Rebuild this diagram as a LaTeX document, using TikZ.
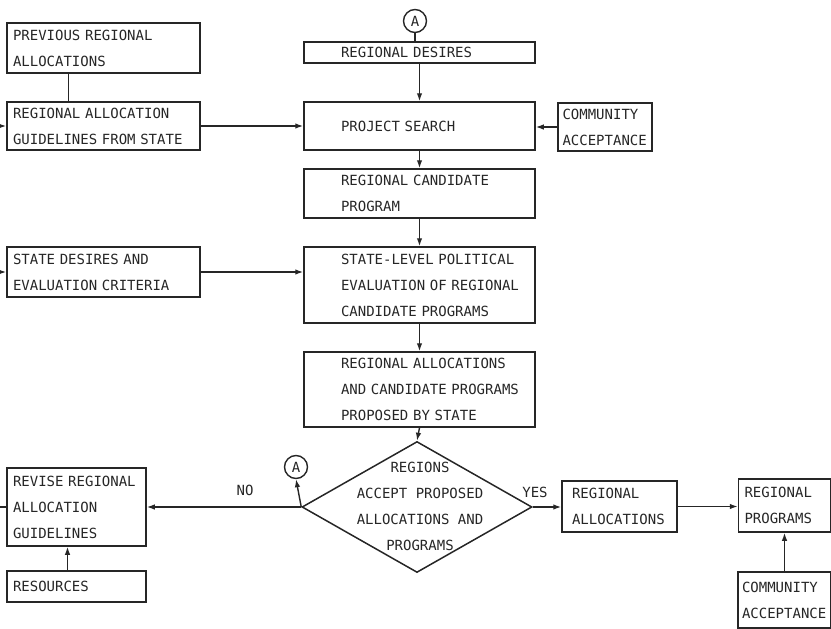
\documentclass[tikz,border=0pt]{standalone}
\usepackage{fontspec}
\usepackage{tikz}
\usetikzlibrary{arrows.meta}
\usetikzlibrary{shapes.geometric}
\newfontfamily\typewriter{DejaVu Sans Mono}
\newcommand{\boxfont}{\typewriter\fontsize{14}{26}\selectfont}

\begin{document}
\begin{tikzpicture}[x=1pt, y=-1pt,
    box/.style={draw=inkcolor, line width=1.5pt, text=inkcolor, font=\boxfont,
      align=left, inner xsep=6pt, inner ysep=0pt},
    midbox/.style={box, text width=219pt, minimum height=#1,
      execute at begin node={\leftskip=31pt}},
    flow/.style={draw=inkcolor, line width=1.4pt, -{Latex[length=8pt, width=5.5pt]}},
    link/.style={draw=inkcolor, line width=1.4pt},
    connector/.style={draw=inkcolor, circle, line width=1.4pt, minimum size=23pt,
      inner sep=0pt, text=inkcolor, font=\boxfont},
    decision/.style={draw=inkcolor, diamond, line width=1.5pt, minimum width=230pt,
      minimum height=131pt, inner sep=0pt},
    branch/.style={text=inkcolor, font=\boxfont, inner sep=0pt}]

    % Farben
    \definecolor{inkcolor}{rgb}{0.15, 0.15, 0.15}

    \useasboundingbox (0,0) rectangle (831,629);

    % Kaesten links
    \node[box, text width=181pt, minimum height=50pt] (previous) at (103.5,48)
      {PREVIOUS REGIONAL\\ALLOCATIONS};
    \node[box, text width=181pt, minimum height=48pt] (guide) at (103.5,126)
      {REGIONAL ALLOCATION\\GUIDELINES FROM STATE};
    \node[box, text width=181pt, minimum height=50pt] (statedes) at (103.5,272)
      {STATE DESIRES AND\\EVALUATION CRITERIA};
    \node[box, text width=127pt, minimum height=78pt] (revise) at (76.5,507)
      {REVISE REGIONAL\\ALLOCATION\\GUIDELINES};
    \node[box, text width=127pt, minimum height=31pt] (resources) at (76.5,586.5)
      {RESOURCES};

    % Hauptkette in der Mitte
    \node[connector] (A1) at (415,21) {A};
    \node[midbox=21pt] (desires) at (419.5,52.5) {REGIONAL DESIRES};
    \node[midbox=48pt] (search) at (419.5,126) {PROJECT SEARCH};
    \node[midbox=49pt] (cand) at (419.5,193.5) {REGIONAL CANDIDATE\\PROGRAM};
    \node[midbox=76pt] (state) at (419.5,285)
      {STATE-LEVEL POLITICAL\\EVALUATION OF REGIONAL\\CANDIDATE PROGRAMS};
    \node[midbox=75pt] (proposed) at (419.5,389.5)
      {REGIONAL ALLOCATIONS\\AND CANDIDATE PROGRAMS\\PROPOSED BY STATE};
    \node[decision] (accept) at (417,507) {};
    \node[branch, align=center] (acceptText) at (420,506)
      {REGIONS\\ACCEPT PROPOSED\\ALLOCATIONS AND\\PROGRAMS};
    \node[connector] (A2) at (296,467) {A};

    % Kaesten rechts
    \node[box, inner xsep=4.5pt, text width=85pt, minimum height=48pt] (community) at (605,127)
      {COMMUNITY\\ACCEPTANCE};
    \node[box, inner xsep=10pt, text width=95pt, minimum height=51pt] (regalloc) at (619.5,506.5)
      {REGIONAL\\ALLOCATIONS};
    \node[box, text width=80pt, minimum height=53pt] (regprog) at (784.5,505.5)
      {REGIONAL\\PROGRAMS};
    \node[box, inner xsep=4pt, text width=85pt, minimum height=56pt] (community2) at (784.5,600)
      {COMMUNITY\\ACCEPTANCE};

    % Beschriftungen der Verzweigung
    \node[branch] (no) at (245,490) {NO};
    \node[branch] (yes) at (535,492) {YES};

    % Anschluesse am linken Rand
    \coordinate (fromGuide) at (0,126);
    \coordinate (fromState) at (0,272);
    \coordinate (toRevise) at (0,507);

    % Verbindungen
    \draw[link] ([xshift=-35pt]previous.south) -- ([xshift=-35pt]guide.north);
    \draw[flow] (fromGuide) -- (guide.west);
    \draw[flow] (fromState) -- (statedes.west);
    \draw[link] (revise.west) -- (toRevise);
    \draw[flow] (guide.east) -- (search.west);
    \draw[flow] (statedes.east) -- (statedes.east -| state.west);
    \draw[link] (A1.south) -- (A1.south |- desires.north);
    \draw[flow] (desires.south) -- (search.north);
    \draw[flow] (community.west) -- (community.west -| search.east);
    \draw[flow] (search.south) -- (cand.north);
    \draw[flow] (cand.south) -- (state.north);
    \draw[flow] (state.south) -- (proposed.north);
    \draw[flow] (proposed.south) -- (accept.north);
    \draw[flow] (accept.west) -- (A2.south);
    \draw[flow] (accept.west) -- (accept.west -| revise.east);
    \draw[flow] ([xshift=-9pt]resources.north) -- ([xshift=-9pt]revise.south);
    \draw[flow] (accept.east) -- (accept.east -| regalloc.west);
    \draw[flow] (regalloc.east) -- (regalloc.east -| regprog.west);
    \draw[flow] (community2.north) -- (regprog.south);

\end{tikzpicture}
\end{document}
